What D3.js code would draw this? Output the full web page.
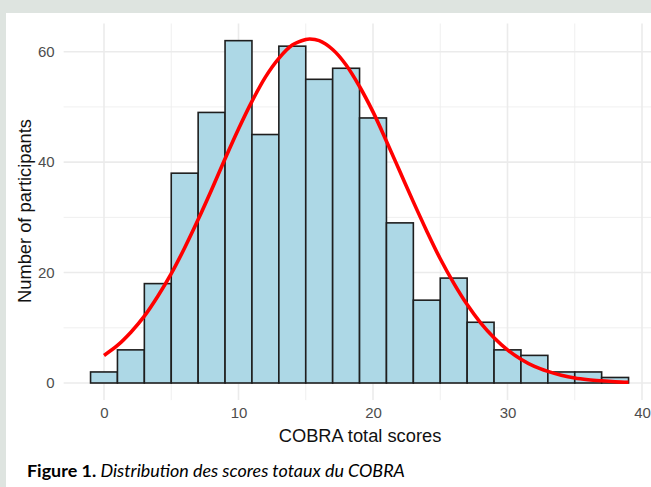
<!DOCTYPE html>
<html>
<head>
<meta charset="utf-8">
<script src="https://cdn.jsdelivr.net/npm/d3@7"></script>
<style>
  html, body { margin: 0; padding: 0; background: #dee4e0; }
  svg { display: block; }
</style>
</head>
<body>
<svg id="chart" width="651" height="487"></svg>
<script>
// ---- data ----
const binCenters = [0, 2, 4, 6, 8, 10, 12, 14, 16, 18, 20, 22, 24, 26, 28, 30, 32, 34, 36, 38];
const binCounts  = [2, 6, 18, 38, 49, 62, 45, 61, 55, 57, 48, 29, 15, 19, 11, 6, 5, 2, 2, 1];
const binWidth = 2;
const curveX = [0,1,2,3,4,5,6,7,8,9,10,11,12,13,14,15,15.3,16,17,18,19,20,21,22,23,24,25,26,27,28,29,30,31,32,33,34,35,36,37,38,39];
const curveY = [5.0,6.8,9.2,12.1,15.7,19.8,24.5,29.6,35.0,40.6,46.0,51.0,55.4,58.8,61.2,62.2,62.3,62.0,60.4,57.6,53.7,49.1,43.8,38.3,32.8,27.5,22.5,18.1,14.2,10.9,8.2,6.0,4.3,3.0,2.1,1.4,0.9,0.6,0.4,0.24,0.14];
const xTicks = [0, 10, 20, 30, 40];
const xMinor = [5, 15, 25, 35];
const yTicks = [0, 20, 40, 60];
const yMinor = [10, 30, 50];
const xTitle = "COBRA total scores";
const yTitle = "Number of participants";
const captionBold = "Figure 1.";
const captionItalic = " Distribution des scores totaux du COBRA";

const svg = d3.select("#chart");

// white panel
svg.append("rect").attr("x", 6).attr("y", 13).attr("width", 651 - 6).attr("height", 487 - 13).attr("fill", "#ffffff");

const x = d3.scaleLinear().domain([0, 40]).range([104, 642]);
const y = d3.scaleLinear().domain([0, 60]).range([383, 51.7]);
const xLo = x(-3), xHi = x(41);
const yLo = y(-3.1), yHi = y(65.1);

const grid = svg.append("g");
// minor grid
grid.selectAll(".vmin").data(xMinor).enter().append("line")
  .attr("x1", d => x(d)).attr("x2", d => x(d)).attr("y1", yLo).attr("y2", yHi)
  .attr("stroke", "#ededed").attr("stroke-width", 0.9);
grid.selectAll(".hmin").data(yMinor).enter().append("line")
  .attr("x1", xLo).attr("x2", xHi).attr("y1", d => y(d)).attr("y2", d => y(d))
  .attr("stroke", "#ededed").attr("stroke-width", 0.9);
// major grid
grid.selectAll(".vmaj").data(xTicks).enter().append("line")
  .attr("x1", d => x(d)).attr("x2", d => x(d)).attr("y1", yLo).attr("y2", yHi)
  .attr("stroke", "#ebebeb").attr("stroke-width", 1.6);
grid.selectAll(".hmaj").data(yTicks).enter().append("line")
  .attr("x1", xLo).attr("x2", xHi).attr("y1", d => y(d)).attr("y2", d => y(d))
  .attr("stroke", "#ebebeb").attr("stroke-width", 1.6);

// bars
const bins = binCenters.map((c, i) => ({ c, n: binCounts[i] }));
svg.append("g").selectAll("rect").data(bins).enter().append("rect")
  .attr("x", d => x(d.c - binWidth / 2))
  .attr("width", d => x(d.c + binWidth / 2) - x(d.c - binWidth / 2))
  .attr("y", d => y(d.n))
  .attr("height", d => y(0) - y(d.n))
  .attr("fill", "#add8e6")
  .attr("stroke", "#1e1e1e")
  .attr("stroke-width", 1.6);

// normal curve
const pts = curveX.map((v, i) => [v, curveY[i]]);
svg.append("path")
  .attr("d", d3.line().x(d => x(d[0])).y(d => y(d[1])).curve(d3.curveCatmullRom)(pts))
  .attr("fill", "none").attr("stroke", "#ff0000").attr("stroke-width", 3.6)
  .attr("stroke-linecap", "butt");

// axes (tick labels only, theme_minimal style)
const xAxis = svg.append("g").attr("transform", `translate(0,${yLo})`)
  .call(d3.axisBottom(x).tickValues(xTicks).tickSize(0).tickPadding(7));
xAxis.select(".domain").remove();
xAxis.selectAll("text").attr("font-family", "Liberation Sans, Arial, sans-serif")
  .attr("font-size", 15).attr("fill", "#4d4d4d");

const yAxis = svg.append("g").attr("transform", `translate(${xLo},0)`)
  .call(d3.axisLeft(y).tickValues(yTicks).tickSize(0).tickPadding(9));
yAxis.select(".domain").remove();
yAxis.selectAll("text").attr("font-family", "Liberation Sans, Arial, sans-serif")
  .attr("font-size", 15).attr("fill", "#4d4d4d");

// titles
svg.append("text").attr("x", 360).attr("y", 442)
  .attr("text-anchor", "middle")
  .attr("font-family", "Liberation Sans, Arial, sans-serif")
  .attr("font-size", 18.3).attr("fill", "#111")
  .text(xTitle);

svg.append("text")
  .attr("transform", "translate(31,211) rotate(-90)")
  .attr("text-anchor", "middle")
  .attr("font-family", "Liberation Sans, Arial, sans-serif")
  .attr("font-size", 18.3).attr("fill", "#111")
  .text(yTitle);

// caption
const cap = svg.append("text").attr("x", 27).attr("y", 477)
  .attr("font-family", "Lato, 'Open Sans', sans-serif")
  .attr("font-size", 16).attr("fill", "#000");
cap.append("tspan").attr("font-weight", "bold").text(captionBold);
cap.append("tspan").attr("font-style", "italic").text(captionItalic);
const w = cap.node().getComputedTextLength();
cap.attr("font-size", 16 * 378 / w);
</script>
</body>
</html>
